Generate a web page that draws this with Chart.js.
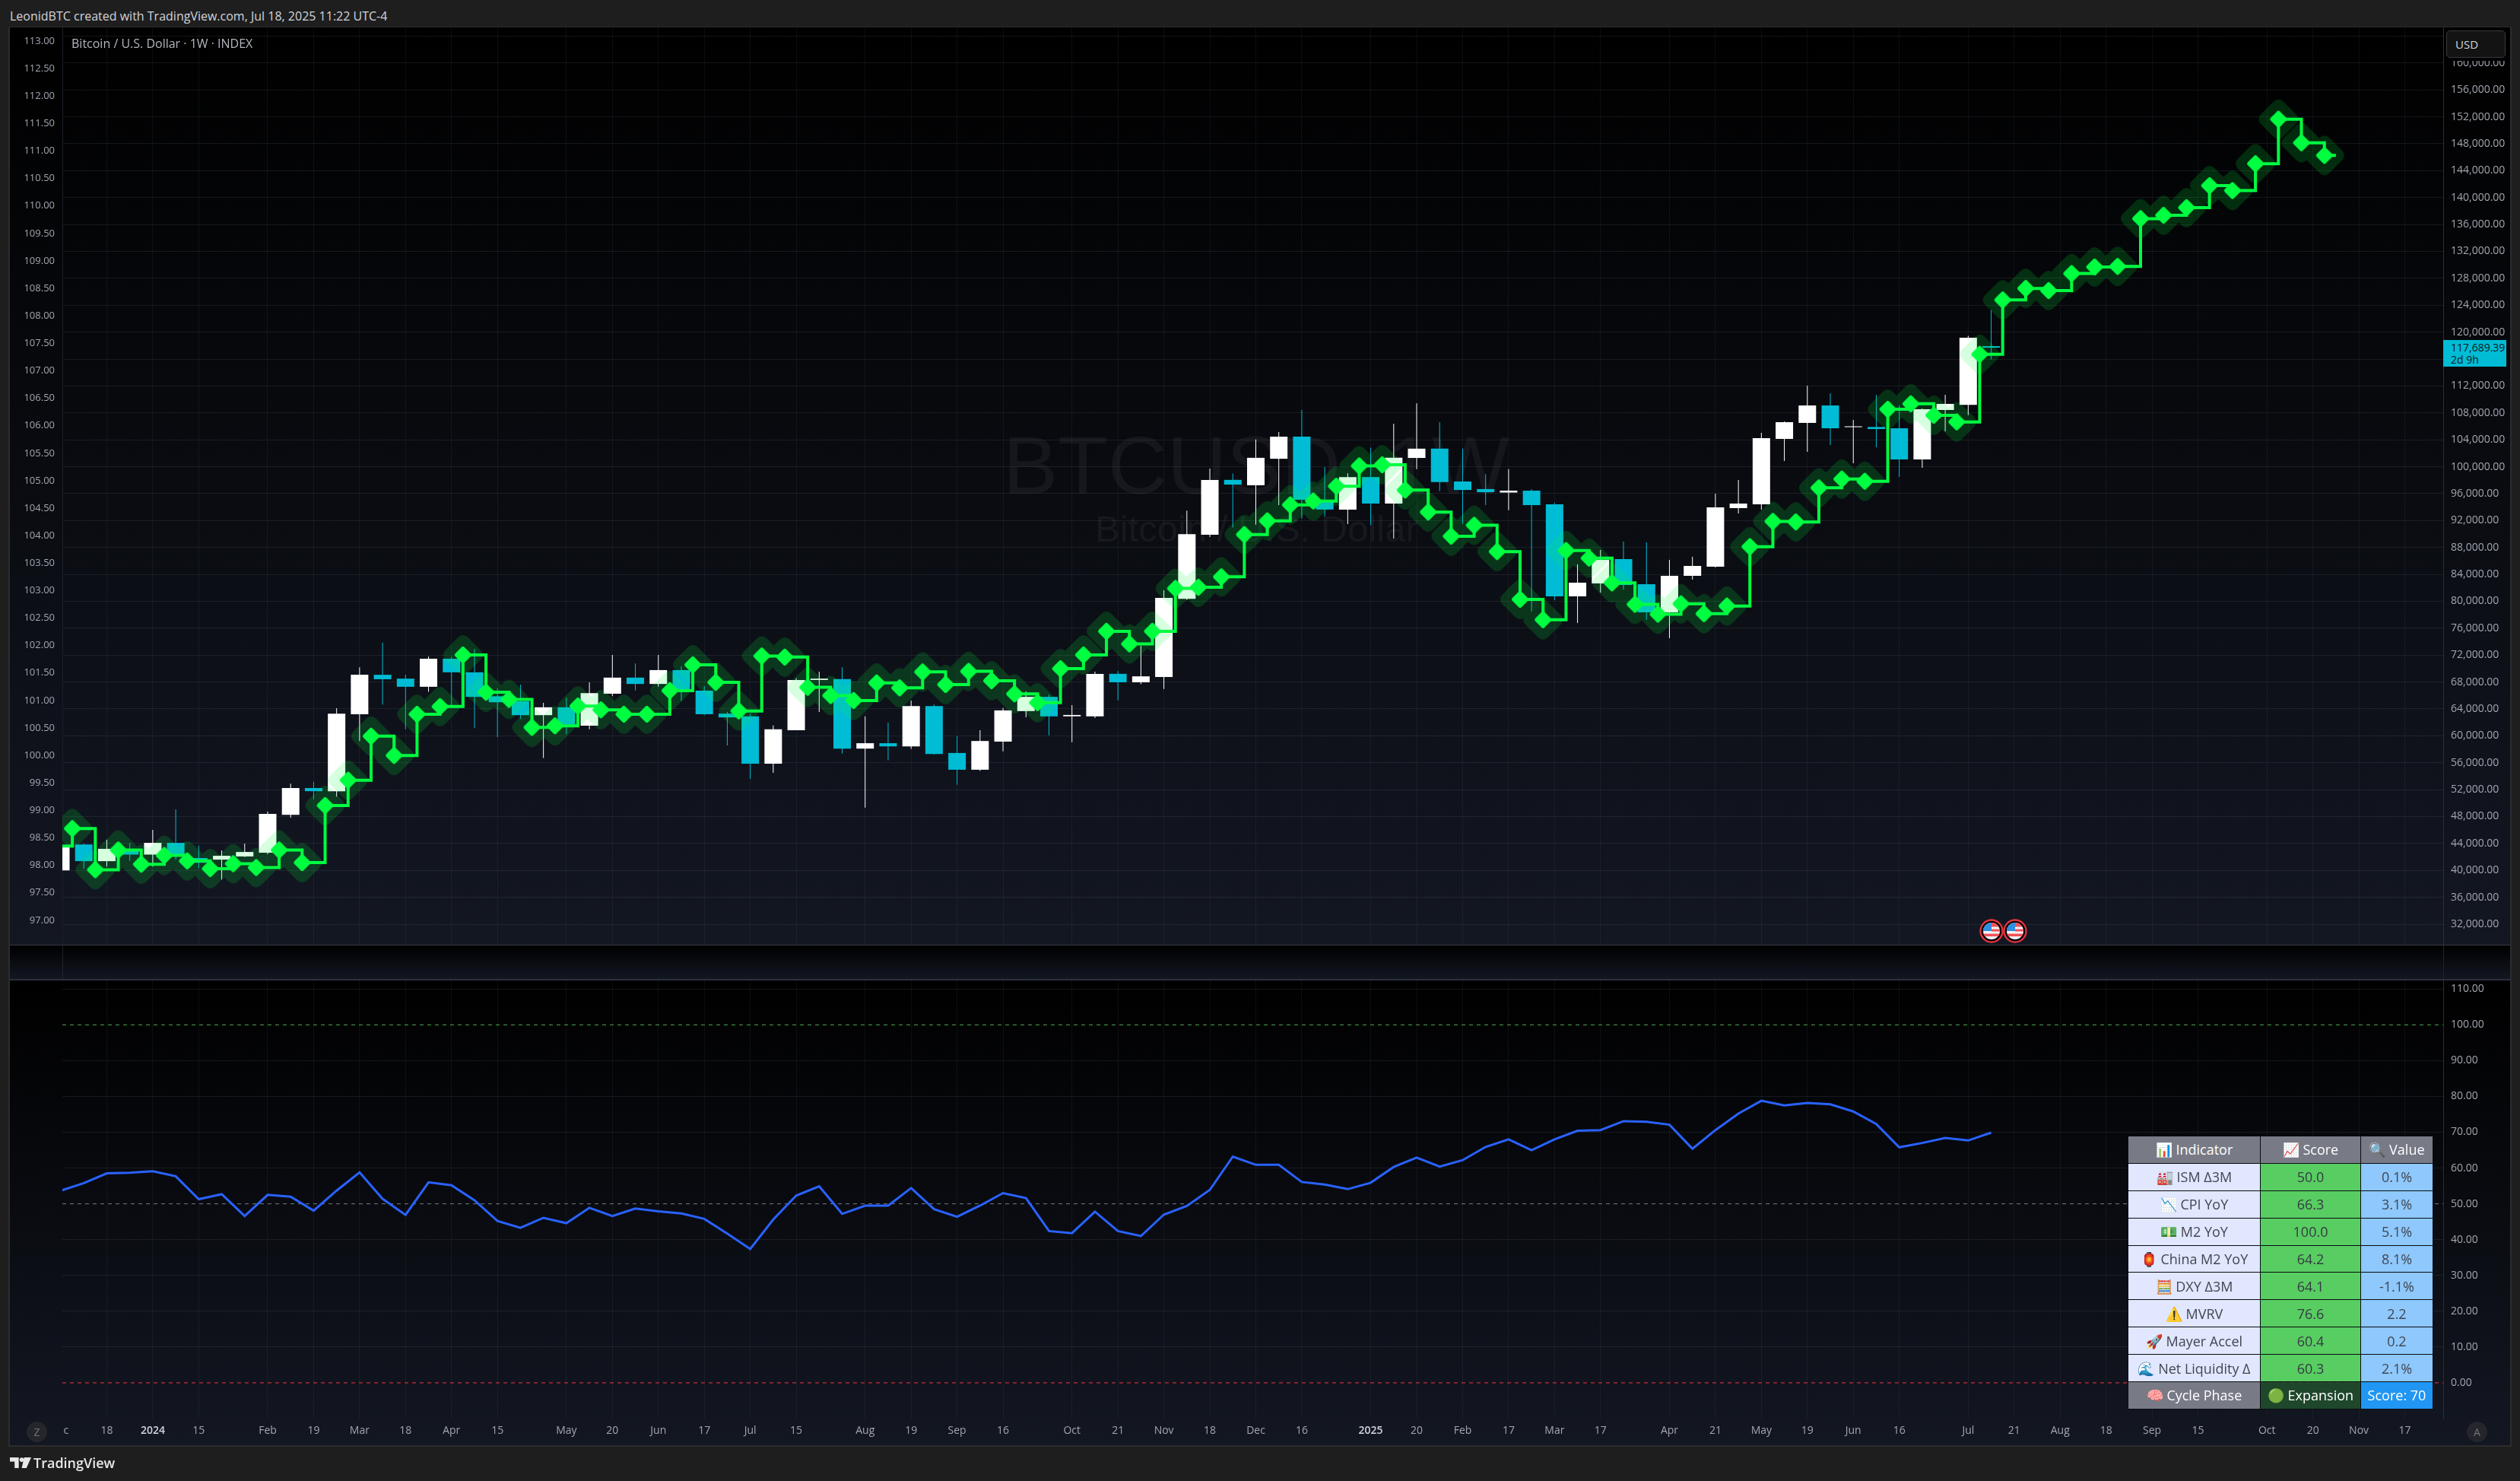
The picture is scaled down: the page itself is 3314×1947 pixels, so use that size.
<!DOCTYPE html>
<html>
<head>
<meta charset="utf-8">
<title>BTCUSD 1W</title>
<script src="https://cdn.jsdelivr.net/npm/chart.js@4"></script>
<style>
  html, body { margin: 0; padding: 0; background: #1e1e1e; width: 3314px; height: 1947px; overflow: hidden; }
  body { position: relative; font-family: "Open Sans", sans-serif; }
  .abs { position: absolute; }
  .pane { position: absolute; left: 13px; width: 3288px; background: linear-gradient(#000000, #131722); }
  canvas { position: absolute; left: 13px; }
  #glowChart { opacity: 0.165; }
  #header { left: 13px; top: 10px; font-size: 16px; color: #d1d4dc; white-space: nowrap; }
  #title { left: 94px; top: 46px; font-size: 16px; color: #b2b5be; white-space: nowrap; }
  .mark { font-family: "Liberation Sans", sans-serif; color: rgba(255,255,255,0.05); white-space: nowrap; }
  #usd { left: 3217px; top: 40px; width: 78px; height: 36px; line-height: 35px; background: #131313; border: 1px solid #3a3a3e; border-radius: 5px; color: #d1d4dc; font-size: 15px; text-indent: 11px; box-sizing: border-box; }
  #usdMask { left: 3217px; top: 76px; width: 78px; height: 4px; background: #010103; }
  #tag { left: 3213px; top: 447px; width: 83px; height: 35px; background: #00bcd4; color: #131722; font-size: 14px; line-height: 16px; padding: 2px 0 0 10px; box-sizing: border-box; }
  .round { width: 27px; height: 27px; line-height: 27px; border-radius: 50%; background: #24262c; color: #70737c; text-align: center; font-size: 14px; }
  #tvText { left: 44px; top: 1911px; color: #e8e8e8; font-size: 18px; font-weight: 600; }
  table { position: absolute; left: 2798px; top: 1493px; width: 401px; height: 359px; border-collapse: collapse; table-layout: fixed; font-size: 18px; line-height: 22px; }
  td { padding: 0; text-align: center; border: 1px solid #0a0c12; white-space: nowrap; height: 34.9px; overflow: hidden; }
  td.head { background: #787b86; color: #ffffff; }
  td.name { background: #e0e7ff; color: #434651; }
  td.score { background: rgba(91,212,100,0.97); color: #363a45; }
  td.val { background: rgba(144,202,255,0.99); color: #434651; }
  td.phase { background: rgba(32,76,44,0.9); color: #ffffff; }
  td.total { background: #2196f3; color: #ffffff; }
</style>
</head>
<body>
<div class="pane" style="top:36px;height:1206px"></div>
<div class="pane" style="top:1243px;height:44px"></div>
<div class="pane" style="top:1289px;height:611px"></div>
<div class="abs" style="left:13px;top:1242px;width:3288px;height:1px;background:#363a45"></div>
<div class="abs" style="left:13px;top:1287px;width:3288px;height:2px;background:#2c2f3d"></div>
<div class="abs" style="left:82px;top:1243px;width:1px;height:44px;background:#20232d"></div>
<div class="abs" style="left:3213px;top:1243px;width:1px;height:44px;background:#20232d"></div>
<div class="abs" style="left:11px;top:35px;width:2px;height:1867px;background:#2c2c2e"></div>
<div class="abs" style="left:3301px;top:35px;width:2px;height:1867px;background:#2c2c2e"></div>
<div class="abs" style="left:11px;top:35px;width:3292px;height:1px;background:#2c2c2e"></div>
<div class="abs" style="left:11px;top:1900px;width:3292px;height:2px;background:#2c2c2e"></div>
<div class="abs mark" style="left:1319px;top:549px;font-size:108px">BTCUSD, 1W</div>
<div class="abs mark" style="left:1440px;top:667px;font-size:49px">Bitcoin / U.S. Dollar</div>

<canvas id="priceChart" width="3288" height="1206" style="top:36px"></canvas>
<canvas id="glowChart" width="3288" height="1206" style="top:36px"></canvas>
<canvas id="pathChart" width="3288" height="1206" style="top:36px"></canvas>
<canvas id="scoreChart" width="3288" height="612" style="top:1288px"></canvas>

<div id="header" class="abs">LeonidBTC created with TradingView.com, Jul 18, 2025 11:22 UTC-4</div>
<div id="title" class="abs">Bitcoin / U.S. Dollar · 1W · INDEX</div>
<div id="usdMask" class="abs"></div>
<div id="usd" class="abs">USD</div>
<div id="tag" class="abs">117,689.39<br>2d 9h</div>
<svg class="abs" style="left:2603px;top:1208px" width="64" height="32" viewBox="0 0 64 32">
  <g id="flag">
    <circle cx="16" cy="16" r="14.5" fill="#000" stroke="#e5323e" stroke-width="2.4"/>
    <circle cx="16" cy="16" r="11" fill="#f4f4f4"/>
    <path d="M16 5a11 11 0 0 1 9.5 5.5H16zM16 13.5h11v3H16zM5.3 19.5h21.4a11 11 0 0 1-2 3.5H7.3a11 11 0 0 1-2-3.5z" fill="#f0535b"/>
    <path d="M16 5a11 11 0 0 0-11 11h11z" fill="#2f8ee0"/>
  </g>
  <use href="#flag" x="31"/>
</svg>
<div class="abs round" style="left:35px;top:1869px">Z</div>
<div class="abs round" style="left:3244px;top:1869px">A</div>
<svg class="abs" style="left:13px;top:1915px" width="28" height="16" viewBox="0 0 36 20">
  <path d="M0 1h15v18H8V8H0zM24 1h12l-8 18h-8z" fill="#e8e8e8"/><circle cx="20" cy="5" r="3.6" fill="#e8e8e8"/>
</svg>
<div id="tvText" class="abs">TradingView</div>
<table id="panel"></table>

<script>
// weekly candles
const weekOpen = [40000,43850,41370,42900,42350,44090,41840,41600,42070,42640,48260,52240,51770,63210,69070,68500,67290,71460,69440,65880,65130,63070,64240,61520,66260,68650,67710,69770,66720,63300,62880,
  55850,60820,68300,68420,58100,58900,58430,64430,57450,54960,59140,63680,65790,62900,62890,69210,67950,68740,80370,89880,98040,97240,101180,104460,95080,93630,98460,94520,101300,102680,97800,96680,96160,
  96440,94410,80730,82650,86270,82530,78350,83780,85140,93840,94410,104130,106510,109100,105880,105900,105710,101080,108430,109200,117920];
const weekClose = [43480,41370,43200,42350,44090,42350,41130,42170,42730,48400,52240,51770,63300,69070,68410,67290,71460,69440,65790,64990,63070,64240,61660,66350,68650,67710,69770,66910,63210,62740,55850,
  60960,68280,68500,58100,58900,58430,64430,57310,54960,59230,63780,65790,62890,63100,69210,67950,68840,80510,89980,98040,97340,101320,104460,95080,93630,98460,94520,101320,102680,97710,96540,96210,96440,
  94290,80730,82760,86150,82420,78350,83780,85250,93950,94520,104240,106620,109100,105710,106000,105600,101080,108540,109330,119170,117689];
const weekHigh = [43600,43990,44560,44040,46010,49060,43670,42960,43990,48730,52900,53130,64100,70190,73850,69070,71790,71740,72910,67050,67620,64900,65650,67940,72020,70760,72020,70330,67380,63540,63300,
  61530,68560,69540,70200,62890,61950,65230,64670,59930,60820,64150,66590,66120,64570,69540,69630,73380,81630,93490,99730,98980,104040,105160,108440,99960,99020,102820,106380,109430,106620,102680,98880,99630,
  96670,94630,85470,87620,88870,88750,86150,86600,95990,98020,105040,106730,112050,110910,106960,110690,109110,108650,110690,119460,123250];
const weekLow = [39500,40240,40570,41420,40570,41600,40340,38650,41980,42400,47840,50560,50980,59230,64660,60960,66540,64570,61150,59790,62510,56700,60260,60960,65880,66730,67290,65180,63070,58570,53600,
  54500,60820,63540,57350,49340,56370,58060,57210,52710,54780,57680,62740,60070,59040,62650,65280,67670,66960,80180,89550,90960,91380,94290,92270,92600,91480,91340,89320,99630,96350,91520,94290,93540,
  78460,80160,76770,81290,81740,77220,74510,83210,85020,93050,93620,100850,102210,103230,100510,102890,98480,99830,105260,107670,115940];

// stepped model path and its diamonds
const modelPath = [98.67,97.92,98.28,98.02,98.18,98.08,97.94,98.03,97.96,98.28,98.05,99.09,99.55,100.35,100.00,100.75,100.89,101.83,101.15,101.02,100.51,100.54,100.90,100.83,100.75,100.75,101.18,101.65,101.33,100.81,
  101.81,101.79,101.24,101.09,101.00,101.32,101.23,101.52,101.29,101.53,101.36,101.12,100.96,101.58,101.83,102.26,102.03,102.26,103.04,103.06,103.25,104.02,104.27,104.56,104.63,104.90,105.27,105.29,104.83,104.43,
  103.99,104.19,103.71,102.84,102.47,103.73,103.59,103.14,102.75,102.57,102.76,102.58,102.72,103.80,104.26,104.25,104.87,105.03,104.99,106.30,106.40,106.19,106.07,107.30,
  108.29,108.50,108.46,108.77,108.89,108.90,109.77,109.83,109.97,110.37,110.28,110.77,111.58,111.15,110.92];
const modelOffset = 0.5;
const modelBefore = 98.35;

// lower pane
const cycleScore = [53.7,55.8,58.5,58.7,59.1,57.7,51.3,52.7,46.6,52.5,52.0,48.1,53.7,58.8,51.4,46.9,56.0,55.2,51.0,45.2,43.3,46.1,44.6,48.9,46.6,48.7,47.9,47.3,45.8,41.7,37.4,45.6,52.3,54.9,
  47.2,49.5,49.5,54.4,48.5,46.4,49.5,53.0,51.6,42.4,41.8,47.8,42.4,41.0,47.0,49.4,53.9,63.2,60.9,60.9,56.1,55.4,54.1,55.9,60.3,62.9,60.4,62.2,65.9,68.0,65.0,68.0,70.4,70.6,73.1,72.9,72.1,65.4,70.6,75.2,78.8,77.5,78.2,77.8,75.8,72.3,65.8,67.0,68.4,67.7,69.9];
const scoreLevels = [100, 50, 0];
const levelColors = ['#4caf50', '#787b86', '#f23645'];

// axes
const timeTicks = [0.23,2,4,6,9,11,13,15,17,19,22,24,26,28,30,32,35,37,39,41,44,46,48,50,52,54,57,59,61,63,65,67,70,72,74,76,78,80,83,85,87,89,91,93,96,98,100,102];
const timeNames = ['c','18','2024','15','Feb','19','Mar','18','Apr','15','May','20','Jun','17','Jul','15','Aug','19','Sep','16','Oct','21','Nov','18','Dec','16','2025','20','Feb','17','Mar','17','Apr','21','May','19','Jun','16','Jul','21','Aug','18','Sep','15','Oct','20','Nov','17'];
const priceTicks = [32000,36000,40000,44000,48000,52000,56000,60000,64000,68000,72000,76000,80000,84000,88000,92000,96000,100000,104000,108000,112000,116000,120000,124000,128000,132000,136000,140000,144000,148000,152000,156000,160000,164000];
const leftTicks = [97,97.5,98,98.5,99,99.5,100,100.5,101,101.5,102,102.5,103,103.5,104,104.5,105,105.5,106,106.5,107,107.5,108,108.5,109,109.5,110,110.5,111,111.5,112,112.5,113];
const scoreTicks = [0,10,20,30,40,50,60,70,80,90,100,110];

// indicator table
const tableHead = ['📊 Indicator', '📈 Score', '🔍 Value'];
const rowNames = ['🏭 ISM Δ3M', '📉 CPI YoY', '💵 M2 YoY', '🏮 China M2 YoY', '🧮 DXY Δ3M', '⚠️ MVRV', '🚀 Mayer Accel', '🌊 Net Liquidity Δ'];
const rowScores = ['50.0', '66.3', '100.0', '64.2', '64.1', '76.6', '60.4', '60.3'];
const rowValues = ['0.1%', '3.1%', '5.1%', '8.1%', '-1.1%', '2.2', '0.2', '2.1%'];
const tableFoot = ['🧠 Cycle Phase', '🟢 Expansion', 'Score: 70'];

const white = '#ffffff';
const cyan = '#00bcd4';
const green = '#00ff41';
const axisText = '#a3a6af';
const gridLine = 'rgba(120,123,134,0.16)';
const font = { family: '"Open Sans", sans-serif', size: 14 };
const xMin = 0.066;
const xMax = 103.67;

Chart.defaults.animation = false;

// rounded rhombus used as a point image, halfDiag is the outer reach from the centre
function makeDiamond(halfDiag, rounding, color) {
  const size = (halfDiag + 2) * 2;
  const c = document.createElement('canvas');
  c.width = size;
  c.height = size;
  const g = c.getContext('2d');
  const h = halfDiag - rounding;
  const m = size / 2;
  g.beginPath();
  g.moveTo(m, m - h);
  g.lineTo(m + h, m);
  g.lineTo(m, m + h);
  g.lineTo(m - h, m);
  g.closePath();
  g.fillStyle = color;
  g.strokeStyle = color;
  g.lineJoin = 'round';
  g.lineWidth = rounding * 2;
  g.fill();
  g.stroke();
  return c;
}

const candleColor = weekOpen.map((o, i) => weekClose[i] >= o ? white : cyan);
const wickData = weekLow.map((l, i) => ({ x: i, y: [l, weekHigh[i]] }));
const bodyData = weekOpen.map((o, i) => ({ x: i, y: [o, weekClose[i]] }));
const diamondData = modelPath.map((v, i) => ({ x: i + modelOffset, y: v }));
const stepData = [{ x: modelOffset - 1, y: modelBefore }, ...diamondData, { x: modelPath.length, y: modelPath[modelPath.length - 1] }];

function useTicks(list) {
  return scale => { scale.ticks = list.map(v => ({ value: v })); };
}

// fixed axis sizes, no label overhang, so the plot area stays where the panes are
function fixSize(width, height) {
  return s => {
    if (width !== null) s.width = width;
    if (height !== null) s.height = height;
    s.paddingTop = s.paddingBottom = s.paddingLeft = s.paddingRight = 0;
  };
}

function timeScale(showLabels, showGrid) {
  return {
    type: 'linear',
    min: xMin,
    max: xMax,
    offset: false,
    afterBuildTicks: useTicks(timeTicks),
    afterFit: fixSize(null, showLabels ? 35 : 0),
    border: { display: false },
    grid: {
      display: showGrid,
      offset: false,
      drawTicks: false,
      color: c => c.index === 0 ? 'transparent' : 'rgba(120,123,134,0.1)'
    },
    ticks: {
      display: showLabels,
      autoSkip: false,
      maxRotation: 0,
      padding: 8,
      font: c => ({ family: font.family, size: 14, weight: timeNames[c.index] && timeNames[c.index].startsWith('202') ? '600' : '400' }),
      color: c => timeNames[c.index] && timeNames[c.index].startsWith('202') ? '#d1d4dc' : axisText,
      callback: (v, i) => timeNames[i]
    }
  };
}

// the three price canvases share these scales, only the bottom one shows them
function priceScales(show) {
  return {
    x: timeScale(false, show),
    yPrice: {
      type: 'linear',
      position: 'right',
      min: 28948,
      max: 165296,
      afterBuildTicks: useTicks(priceTicks),
      afterFit: fixSize(88, null),
      border: { display: show, color: '#2a2e39' },
      grid: { display: show, color: gridLine, drawTicks: false },
      ticks: {
        display: show,
        font: font,
        color: axisText,
        padding: 10,
        autoSkip: false,
        callback: v => v.toLocaleString('en-US', { minimumFractionDigits: 2 })
      }
    },
    yLeft: {
      type: 'linear',
      position: 'left',
      min: 96.555,
      max: 113.25,
      afterBuildTicks: useTicks(leftTicks),
      afterFit: fixSize(69, null),
      border: { display: show, color: '#1c1f29' },
      grid: { display: false, drawTicks: false },
      ticks: {
        display: show,
        font: { family: font.family, size: 13 },
        color: axisText,
        padding: 10,
        autoSkip: false,
        callback: v => v.toFixed(2)
      }
    }
  };
}

function chartOptions(scales, left) {
  return {
    responsive: false,
    devicePixelRatio: 1,
    layout: { padding: { left: left }, autoPadding: false },
    plugins: { legend: { display: false }, tooltip: { enabled: false } },
    scales: scales
  };
}

new Chart(document.getElementById('priceChart'), {
  type: 'line',
  data: {
    datasets: [
      // an empty set keeps the left axis alive on this canvas
      { label: 'left', data: [], xAxisID: 'x', yAxisID: 'yLeft' },
      { label: 'body', type: 'bar', data: bodyData, xAxisID: 'x', yAxisID: 'yPrice', grouped: false, barThickness: 23, inflateAmount: 0, backgroundColor: candleColor },
      { label: 'wick', type: 'bar', data: wickData, xAxisID: 'x', yAxisID: 'yPrice', grouped: false, barThickness: 1, inflateAmount: 0, backgroundColor: candleColor }
    ]
  },
  options: chartOptions(priceScales(true), 0)
});

// glow sits on its own canvas with css opacity, so overlapping diamonds do not add up
new Chart(document.getElementById('glowChart'), {
  type: 'line',
  data: {
    datasets: [
      { label: 'glow', data: diamondData, xAxisID: 'x', yAxisID: 'yLeft', showLine: false, pointStyle: makeDiamond(26, 9, green), pointRadius: 26 },
      { label: 'price', data: [], xAxisID: 'x', yAxisID: 'yPrice' }
    ]
  },
  options: chartOptions(priceScales(false), 0)
});

new Chart(document.getElementById('pathChart'), {
  type: 'line',
  data: {
    datasets: [
      { label: 'diamonds', data: diamondData, xAxisID: 'x', yAxisID: 'yLeft', showLine: false, pointStyle: makeDiamond(11, 2.5, green), pointRadius: 11 },
      { label: 'step', data: stepData, xAxisID: 'x', yAxisID: 'yLeft', stepped: 'before', borderColor: green, borderWidth: 4, pointRadius: 0, borderJoinStyle: 'miter' },
      { label: 'price', data: [], xAxisID: 'x', yAxisID: 'yPrice' }
    ]
  },
  options: chartOptions(priceScales(false), 0)
});

const levelSets = scoreLevels.map((v, i) => ({
  label: 'level ' + v,
  data: [{ x: xMin, y: v }, { x: xMax, y: v }],
  borderColor: levelColors[i],
  borderWidth: 1,
  borderDash: [5, 5],
  pointRadius: 0
}));

new Chart(document.getElementById('scoreChart'), {
  type: 'line',
  data: {
    datasets: [
      { label: 'score', data: cycleScore.map((v, i) => ({ x: i, y: v })), borderColor: '#2962ff', borderWidth: 3, pointRadius: 0, tension: 0, borderJoinStyle: 'miter' },
      ...levelSets
    ]
  },
  options: chartOptions({
    x: timeScale(true, true),
    y: {
      type: 'linear',
      position: 'right',
      min: -10,
      max: 112.6,
      afterBuildTicks: useTicks(scoreTicks),
      afterFit: fixSize(88, null),
      border: { color: '#2a2e39' },
      grid: { drawTicks: false, color: c => scoreLevels.includes(c.tick.value) ? 'transparent' : gridLine },
      ticks: {
        font: font,
        color: axisText,
        padding: 10,
        autoSkip: false,
        callback: v => v.toFixed(2)
      }
    }
  }, 69)
});

// table is plain html on top of the pane
const panel = document.getElementById('panel');
let rows = '<colgroup><col style="width:174px"><col style="width:132px"><col style="width:95px"></colgroup>';
rows += `<tr><td class="head">${tableHead[0]}</td><td class="head">${tableHead[1]}</td><td class="head">${tableHead[2]}</td></tr>`;
rowNames.forEach((n, i) => {
  rows += `<tr><td class="name">${n}</td><td class="score">${rowScores[i]}</td><td class="val">${rowValues[i]}</td></tr>`;
});
rows += `<tr><td class="head">${tableFoot[0]}</td><td class="phase">${tableFoot[1]}</td><td class="total">${tableFoot[2]}</td></tr>`;
panel.innerHTML = rows;
</script>
</body>
</html>
